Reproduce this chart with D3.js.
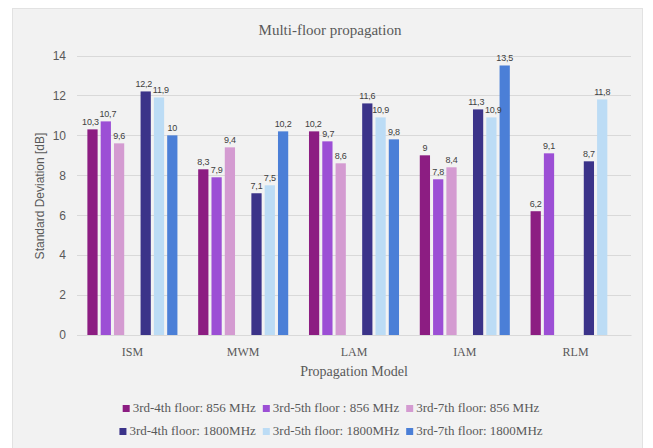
<!DOCTYPE html>
<html>
<head>
<meta charset="utf-8">
<script src="https://cdn.jsdelivr.net/npm/d3@7"></script>
<style>
  html, body { margin: 0; padding: 0; background: #ffffff; }
  svg { display: block; }
</style>
</head>
<body>
<svg id="chart" width="653" height="448"></svg>
<script>
// Propagation models on the x axis
const categories = ["ISM", "MWM", "LAM", "IAM", "RLM"];

// Series names (legend order)
const seriesNames = [
  "3rd-4th floor: 856 MHz",
  "3rd-5th floor : 856 MHz",
  "3rd-7th floor: 856 MHz",
  "3rd-4th floor: 1800MHz",
  "3rd-5th floor: 1800MHz",
  "3rd-7th floor: 1800MHz"
];

// Standard deviation [dB] per model, one array per series (null = no bar)
const floor34_856  = [10.3, 8.3, 10.2, 9.0, 6.2];
const floor35_856  = [10.7, 7.9, 9.7, 7.8, 9.1];
const floor37_856  = [9.6, 9.4, 8.6, 8.4, null];
const floor34_1800 = [12.2, 7.1, 11.6, 11.3, 8.7];
const floor35_1800 = [11.9, 7.5, 10.9, 10.9, 11.8];
const floor37_1800 = [10.0, 10.2, 9.8, 13.5, null];

const yTicks = [0, 2, 4, 6, 8, 10, 12, 14];

const seriesValues = [floor34_856, floor35_856, floor37_856, floor34_1800, floor35_1800, floor37_1800];
const colors = ["#8c1d82", "#9c4fd5", "#d49bd1", "#3b3389", "#bcdcf5", "#4b7fd7"];

const svg = d3.select("#chart");
const serif = "'Liberation Serif', 'DejaVu Serif', serif";
const sans = "'Liberation Sans', 'DejaVu Sans', sans-serif";
const textColor = "#595959";

// Chart panel
svg.append("rect")
  .attr("x", 12.5).attr("y", 8.5)
  .attr("width", 630).attr("height", 445)
  .attr("fill", "#f2f2f2")
  .attr("stroke", "#e2e2e2");

const plot = { left: 77, right: 631, top: 55.5, bottom: 335 };

const x0 = d3.scaleBand().domain(categories).range([plot.left, plot.right]);
// 856 MHz and 1800 MHz series are separated by an empty slot
const slots = ["s0", "s1", "s2", "gap", "s3", "s4", "s5"];
const groupW = 93.1;
const x1 = d3.scaleBand().domain(slots)
  .range([(x0.bandwidth() - groupW) / 2, (x0.bandwidth() + groupW) / 2])
  .paddingInner(0.23).paddingOuter(0.115);
const y = d3.scaleLinear().domain([0, 14]).range([plot.bottom, plot.top]);

// Title
svg.append("text")
  .attr("x", 330).attr("y", 35)
  .attr("text-anchor", "middle")
  .attr("font-family", serif).attr("font-size", 15)
  .attr("fill", textColor)
  .text("Multi-floor propagation");

// Gridlines
svg.append("g")
  .selectAll("line").data(yTicks).join("line")
  .attr("x1", plot.left).attr("x2", plot.right)
  .attr("y1", d => Math.round(y(d)) + 0.5).attr("y2", d => Math.round(y(d)) + 0.5)
  .attr("stroke", "#d9d9d9").attr("stroke-width", 1);

// Y axis tick labels
const yAxis = svg.append("g")
  .attr("transform", `translate(${plot.left},0)`)
  .call(d3.axisLeft(y).tickValues(yTicks).tickSize(0).tickPadding(11).tickFormat(d3.format("d")));
yAxis.select(".domain").remove();
yAxis.selectAll("text")
  .attr("font-family", sans).attr("font-size", 12).attr("fill", textColor);

// Y axis title
svg.append("text")
  .attr("transform", "translate(44,196) rotate(-90)")
  .attr("text-anchor", "middle")
  .attr("font-family", sans).attr("font-size", 12)
  .attr("fill", textColor)
  .text("Standard Deviation [dB]");

// X axis category labels
const xAxis = svg.append("g")
  .attr("transform", `translate(0,${plot.bottom})`)
  .call(d3.axisBottom(x0).tickSize(0).tickPadding(12));
xAxis.select(".domain").attr("stroke", "#d9d9d9");
xAxis.selectAll("text")
  .attr("font-family", serif).attr("font-size", 12).attr("fill", textColor);

// X axis title
svg.append("text")
  .attr("x", 354).attr("y", 376)
  .attr("text-anchor", "middle")
  .attr("font-family", serif).attr("font-size", 14)
  .attr("fill", textColor)
  .text("Propagation Model");

// Bars and value labels
const bars = [];
seriesValues.forEach((vals, si) => {
  vals.forEach((v, ci) => {
    if (v !== null) bars.push({ si, ci, v });
  });
});

const fmt = v => String(v).replace(".", ",");
const barX = d => x0(categories[d.ci]) + x1(slots[d.si < 3 ? d.si : d.si + 1]);

const barG = svg.append("g");
barG.selectAll("rect").data(bars).join("rect")
  .attr("x", barX)
  .attr("y", d => y(d.v))
  .attr("width", x1.bandwidth())
  .attr("height", d => y(0) - y(d.v))
  .attr("fill", d => colors[d.si]);

const labels = barG.selectAll("text").data(bars).join("text")
  .attr("x", d => barX(d) + x1.bandwidth() / 2)
  .attr("y", d => y(d.v) - 4)
  .attr("text-anchor", "middle")
  .attr("font-family", sans).attr("font-size", 9)
  .attr("letter-spacing", -0.2)
  .attr("fill", "#404040")
  .text(d => fmt(d.v));

// Nudge value labels sideways where neighbouring labels would collide
categories.forEach((c, ci) => {
  const items = labels.filter(d => d.ci === ci).nodes()
    .map(n => ({ n, b: n.getBBox(), d: d3.select(n).datum() }))
    .sort((a, b) => a.b.x - b.b.x);
  for (let i = 1; i < items.length; i++) {
    const prev = items[i - 1], cur = items[i];
    const vOverlap = Math.abs(prev.b.y - cur.b.y) < prev.b.height;
    const hOverlap = prev.b.x + prev.b.width + 0.5 - cur.b.x;
    if (vOverlap && hOverlap > 0) {
      const half = hOverlap / 2;
      const px = +prev.n.getAttribute("x") - half;
      const cx = +cur.n.getAttribute("x") + half;
      prev.n.setAttribute("x", px);
      cur.n.setAttribute("x", cx);
      prev.b = prev.n.getBBox();
      cur.b = cur.n.getBBox();
    }
  }
});

// Legend: two rows of three entries
const legendRows = [[0, 1, 2], [3, 4, 5]];
const legendY = [408, 431];
legendRows.forEach((row, ri) => {
  const g = svg.append("g");
  let cx = 0;
  row.forEach(si => {
    const item = g.append("g").attr("transform", `translate(${cx},0)`);
    item.append("rect")
      .attr("x", 0).attr("y", -7).attr("width", 7).attr("height", 7)
      .attr("fill", colors[si]);
    const t = item.append("text")
      .attr("x", 10).attr("y", 0)
      .attr("font-family", serif).attr("font-size", 13)
      .attr("fill", textColor)
      .text(seriesNames[si]);
    cx += 10 + t.node().getComputedTextLength() + 7;
  });
  const total = cx - 7;
  g.attr("transform", `translate(${331 - total / 2},${legendY[ri] + 4})`);
});
</script>
</body>
</html>
